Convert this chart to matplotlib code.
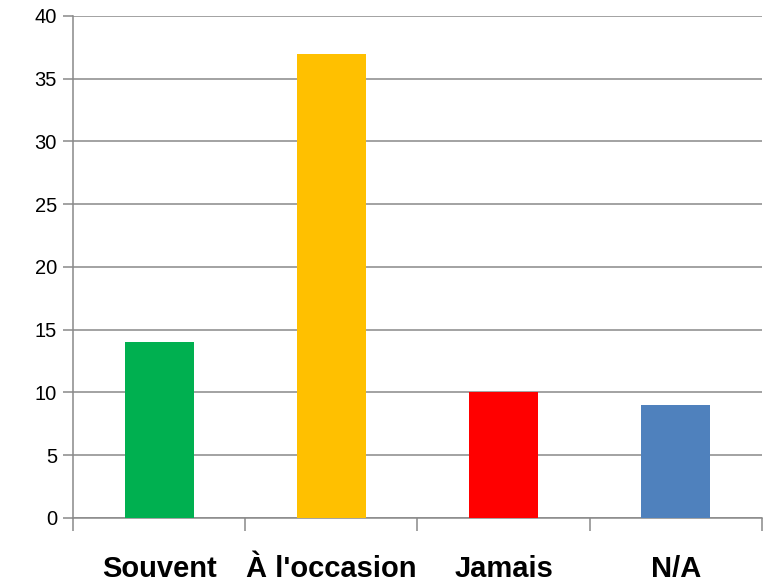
import numpy as np
import matplotlib.pyplot as plt

categories = ['Souvent', "À l'occasion", 'Jamais', 'N/A']
counts = [14, 37, 10, 9]
colors = ['#00B050', '#FFC000', '#FF0000', '#4F81BD']

grid_col = '#898989'

fig = plt.figure(figsize=(7.65, 5.83), dpi=100)
ax = fig.add_axes([0.0954, 0.1115, 0.9006, 0.8611])

x = np.arange(len(categories))
ax.bar(x, counts, width=0.4, color=colors, zorder=3)

ax.set_ylim(0, 40)
ax.set_yticks(np.arange(0, 41, 5))
ax.set_xlim(-0.5, len(categories) - 0.5)

# category boundaries get the tick marks, labels sit at bar centres
ax.set_xticks(np.arange(-0.5, len(categories), 1.0))
ax.set_xticklabels([])
ax.set_xticks(x, minor=True)
ax.set_xticklabels(categories, minor=True, fontsize=21, fontweight='bold',
                   family='Liberation Sans', va='baseline')
ax.tick_params(axis='x', which='minor', length=0, pad=42.5)
ax.tick_params(axis='x', which='major', length=9, width=1.1, color=grid_col)
ax.tick_params(axis='y', length=7.5, width=1.1, color=grid_col, pad=4,
               labelsize=14.5)
for lab in ax.get_yticklabels():
    lab.set_family('Liberation Sans')

ax.yaxis.grid(True, color=grid_col, linewidth=1.1, zorder=0)
for side in ['top', 'right']:
    ax.spines[side].set_visible(False)
for side in ['left', 'bottom']:
    ax.spines[side].set_color(grid_col)
    ax.spines[side].set_linewidth(1.1)

fig.savefig('out.png', dpi=100)
